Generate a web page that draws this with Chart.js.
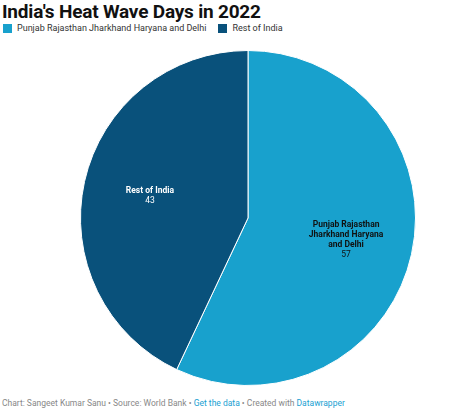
<!DOCTYPE html>
<html><head><meta charset="utf-8">
<script src="https://cdn.jsdelivr.net/npm/chart.js@4"></script>
<style>
body{margin:0;width:474px;height:413px;background:#fff;font-family:Roboto,sans-serif;position:relative;overflow:hidden}
#t{position:absolute;left:2px;top:0px;font-size:19px;font-weight:bold;color:#111;letter-spacing:-0.2px}
#lg{position:absolute;left:3px;top:23px;font-size:9px;color:#333;display:flex;align-items:center}
#lg span.b{display:inline-block;width:9px;height:9px;margin-right:5px}
#lg span.i{margin-right:12px}
#c{position:absolute;left:0;top:46px}
#f{position:absolute;left:2px;top:398px;font-size:8.5px;color:#888}
#f a{color:#1aa1d2;text-decoration:none}
</style></head><body>
<div id="t">India's Heat Wave Days in 2022</div>
<div id="lg"></div>
<div id="c" style="width:474px;height:344px"><canvas id="cv"></canvas></div>
<div id="f">Chart: Sangeet Kumar Sanu • Source: World Bank • <a>Get the data</a> • Created with <a>Datawrapper</a></div>
<script>
const categories=["Punjab Rajasthan Jharkhand Haryana and Delhi","Rest of India"];
const values=[57,43];
const labelLines=[["Punjab Rajasthan","Jharkhand Haryana","and Delhi"],["Rest of India"]];
const colors=["#18a1cd","#09517b"];
const textColors=["#111","#fff"];
const lg=document.getElementById('lg');
categories.forEach((c,i)=>{lg.innerHTML+=`<span class="b" style="background:${colors[i]}"></span><span class="i">${c}</span>`;});
const inLabels={id:'inl',afterDatasetsDraw(ch){const ctx=ch.ctx;const meta=ch.getDatasetMeta(0);
meta.data.forEach((a,i)=>{const mid=(a.startAngle+a.endAngle)/2;const r=a.outerRadius*0.6;
const x=a.x+Math.cos(mid)*r,y=a.y+Math.sin(mid)*r;const lines=labelLines[i].concat([String(values[i])]);
ctx.save();ctx.fillStyle=textColors[i];ctx.textAlign='center';ctx.textBaseline='middle';
const lh=10;const y0=y-(lines.length-1)*lh/2;
lines.forEach((l,k)=>{ctx.font=(k<lines.length-1?'bold ':'')+'8.5px Roboto';ctx.fillText(l,x,y0+k*lh);});ctx.restore();});}};
new Chart(document.getElementById('cv'),{type:'pie',
data:{labels:categories,datasets:[{data:values,backgroundColor:colors,borderColor:'#fff',borderWidth:1}]},
options:{responsive:true,maintainAspectRatio:false,animation:false,layout:{padding:{left:22,top:4,bottom:4,right:0}},
plugins:{legend:{display:false},tooltip:{enabled:false}}},plugins:[inLabels]});
</script></body></html>
